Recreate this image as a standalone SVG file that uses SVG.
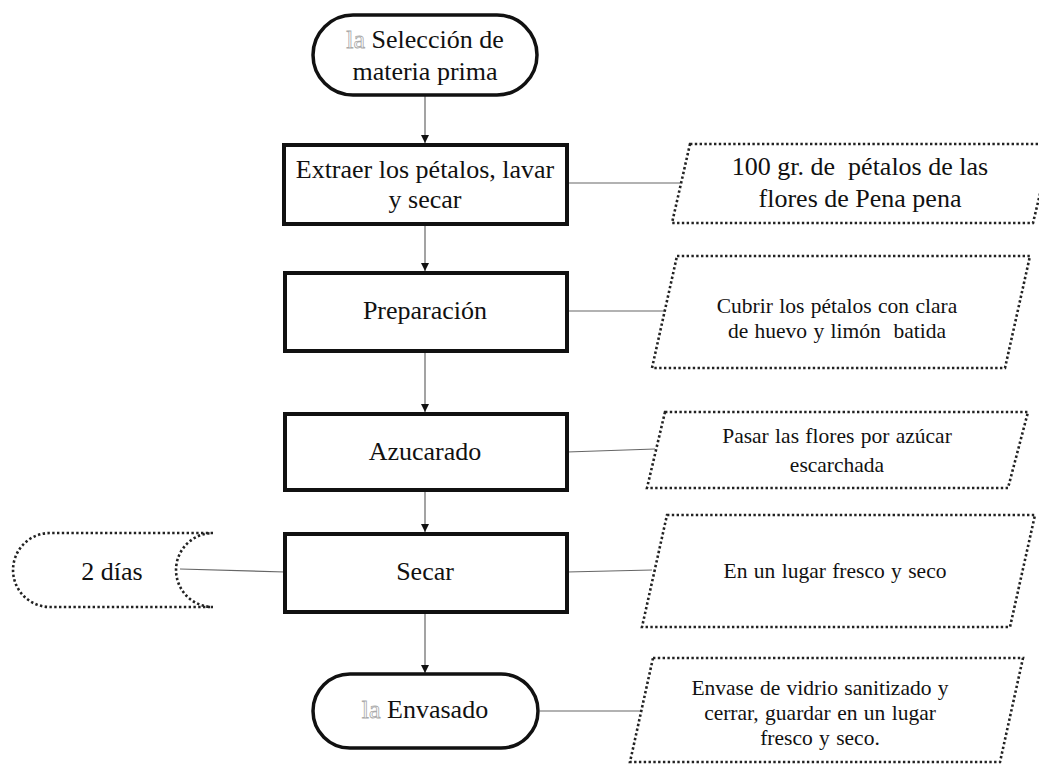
<svg xmlns="http://www.w3.org/2000/svg" width="1039" height="767" viewBox="0 0 1039 767">
  <defs>
    <marker id="arrow" viewBox="0 0 8 8" refX="8" refY="4" markerWidth="8" markerHeight="8" markerUnits="userSpaceOnUse" orient="auto">
      <path d="M0,0 L8,4 L0,8 Z" fill="#111"/>
    </marker>
    <style>
      .proc { fill: #fff; stroke: #111; stroke-width: 4; }
      .term { fill: #fff; stroke: #111; stroke-width: 3.5; }
      .data { fill: #fff; stroke: #222; stroke-width: 2.6; stroke-dasharray: 2.4 2.4; }
      .link { fill: none; stroke: #666; stroke-width: 1.2; }
      .t { font-family: "Liberation Serif", "Times New Roman", serif; fill: #111; text-anchor: middle; white-space: pre; }
      .big { font-size: 26px; }
      .small { font-size: 21.5px; word-spacing: 1px; }
      .ghost { fill: #fff; stroke: #aaa; stroke-width: 0.8; }
    </style>
  </defs>

  <!-- connectors -->
  <g id="connectors">
    <line class="link" x1="425" y1="96" x2="425" y2="143" marker-end="url(#arrow)"/>
    <line class="link" x1="425" y1="225" x2="425" y2="271" marker-end="url(#arrow)"/>
    <line class="link" x1="425" y1="351" x2="425" y2="412" marker-end="url(#arrow)"/>
    <line class="link" x1="425" y1="490" x2="425" y2="532" marker-end="url(#arrow)"/>
    <line class="link" x1="425" y1="612" x2="425" y2="673" marker-end="url(#arrow)"/>
    <line class="link" x1="567" y1="183" x2="680" y2="183"/>
    <line class="link" x1="567" y1="311" x2="665" y2="311"/>
    <line class="link" x1="567" y1="452" x2="655" y2="449"/>
    <line class="link" x1="567" y1="572" x2="652" y2="570"/>
    <line class="link" x1="285" y1="572" x2="180" y2="569"/>
    <line class="link" x1="540" y1="711" x2="643" y2="711"/>
  </g>

  <!-- start terminator -->
  <g id="inicio">
    <rect class="term" x="313" y="15" width="224" height="80" rx="40" ry="40"/>
    <text class="t big" x="425" y="48"><tspan class="ghost">la</tspan> Selección de</text>
    <text class="t big" x="425" y="80">materia prima</text>
  </g>

  <!-- process steps -->
  <g id="extraer">
    <rect class="proc" x="284" y="145" width="283" height="79"/>
    <text class="t big" x="425" y="178">Extraer los pétalos, lavar</text>
    <text class="t big" x="425" y="208">y secar</text>
  </g>

  <g id="preparacion">
    <rect class="proc" x="285" y="273" width="282" height="78"/>
    <text class="t big" x="425" y="319">Preparación</text>
  </g>

  <g id="azucarado">
    <rect class="proc" x="285" y="414" width="282" height="76"/>
    <text class="t big" x="425" y="460">Azucarado</text>
  </g>

  <g id="secar">
    <rect class="proc" x="285" y="534" width="282" height="78"/>
    <text class="t big" x="425" y="580">Secar</text>
  </g>

  <!-- end terminator -->
  <g id="envasado">
    <rect class="term" x="313" y="674" width="225" height="74" rx="37" ry="37"/>
    <text class="t big" x="425" y="718"><tspan class="ghost">la</tspan> Envasado</text>
  </g>

  <!-- duration (stored data shape) -->
  <g id="dias">
    <path class="data" d="M213,533 L50,533 A37,37 0 0 0 50,607 L213,607 A37,37 0 0 1 213,533 Z"/>
    <text class="t big" x="112" y="580">2 días</text>
  </g>

  <!-- inputs / notes -->
  <g id="nota-petalos">
    <polygon class="data" points="690,144 1052,144 1033,223 672,223"/>
    <text class="t big" x="860" y="175">100 gr. de  pétalos de las</text>
    <text class="t big" x="860" y="207">flores de Pena pena</text>
  </g>

  <g id="nota-cubrir">
    <polygon class="data" points="677,256 1030,256 1005,368 652,368"/>
    <text class="t small" x="837" y="313">Cubrir los pétalos con clara</text>
    <text class="t small" x="837" y="338">de huevo y limón  batida</text>
  </g>

  <g id="nota-azucar">
    <polygon class="data" points="665,412 1028,412 1008,488 647,488"/>
    <text class="t small" x="837" y="443">Pasar las flores por azúcar</text>
    <text class="t small" x="837" y="472">escarchada</text>
  </g>

  <g id="nota-secar">
    <polygon class="data" points="667,515 1035,515 1010,627 642,627"/>
    <text class="t small" x="835" y="578">En un lugar fresco y seco</text>
  </g>

  <g id="nota-envase">
    <polygon class="data" points="653,658 1023,658 1000,762 630,762"/>
    <text class="t small" x="820" y="695">Envase de vidrio sanitizado y</text>
    <text class="t small" x="820" y="720">cerrar, guardar en un lugar</text>
    <text class="t small" x="820" y="745">fresco y seco.</text>
  </g>
</svg>
